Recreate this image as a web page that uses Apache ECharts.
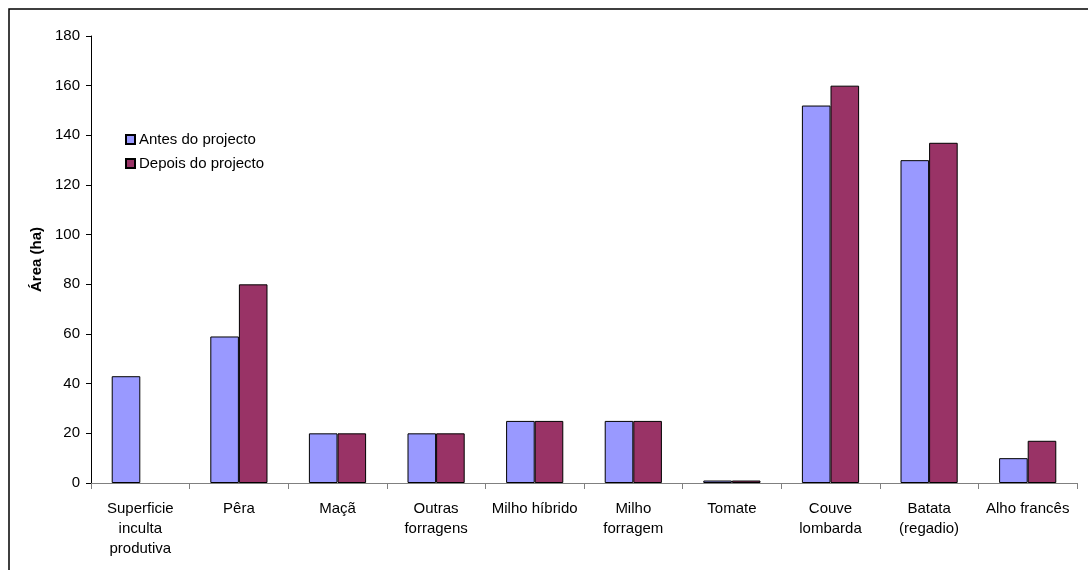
<!DOCTYPE html>
<html>
<head>
<meta charset="utf-8">
<script src="https://cdn.jsdelivr.net/npm/echarts@6/dist/echarts.min.js"></script>
<style>
  html, body { margin: 0; padding: 0; background: #ffffff; }
  #chart { width: 1088px; height: 570px; }
</style>
</head>
<body>
<div id="chart"></div>
<script>
// Área por cultura, antes e depois do projecto
const categories = [
  'Superficie\ninculta\nprodutiva', 'Pêra', 'Maçã', 'Outras\nforragens', 'Milho híbrido',
  'Milho\nforragem', 'Tomate', 'Couve\nlombarda', 'Batata\n(regadio)', 'Alho francês'
];
const antes = [43, 59, 20, 20, 25, 25, 1, 152, 130, 10];
const depois = [null, 80, 20, 20, 25, 25, 1, 160, 137, 17];
const yTicks = { min: 0, max: 180, interval: 20 };

const font = 'Arial, "Liberation Sans", sans-serif';
const chart = echarts.init(document.getElementById('chart'));

chart.setOption({
  animation: false,
  backgroundColor: '#ffffff',
  textStyle: { fontFamily: font },
  graphic: [{
    type: 'rect',
    shape: { x: 9, y: 9, width: 1200, height: 700 },
    style: { fill: 'none', stroke: '#000000', lineWidth: 1.5 },
    silent: true
  }],
  grid: { left: 91, right: 11, top: 36, bottom: 87, containLabel: false },
  legend: {
    orient: 'vertical',
    left: 120,
    top: 127,
    itemWidth: 9,
    itemHeight: 9,
    itemGap: 9,
    icon: 'rect',
    textStyle: { fontFamily: font, fontSize: 15, color: '#000000', padding: [0, 0, 0, -1] },
    data: ['Antes do projecto', 'Depois do projecto']
  },
  xAxis: {
    type: 'category',
    data: categories,
    axisLine: { lineStyle: { color: '#808080', width: 1 } },
    axisTick: { show: true, length: 6, lineStyle: { color: '#808080' } },
    axisLabel: {
      interval: 0,
      color: '#000000',
      fontFamily: font,
      fontSize: 15,
      lineHeight: 20,
      margin: 16
    },
    splitLine: { show: false }
  },
  yAxis: {
    type: 'value',
    min: yTicks.min,
    max: yTicks.max,
    interval: yTicks.interval,
    name: 'Área (ha)',
    nameLocation: 'middle',
    nameGap: 47,
    nameTextStyle: { fontFamily: font, fontSize: 15, fontWeight: 'bold', color: '#000000' },
    axisLine: { show: true, lineStyle: { color: '#000000', width: 1 } },
    axisTick: { show: true, length: 5, lineStyle: { color: '#000000' } },
    axisLabel: { color: '#000000', fontFamily: font, fontSize: 15, margin: 11 },
    splitLine: { show: false }
  },
  series: [
    {
      name: 'Antes do projecto',
      type: 'bar',
      data: antes,
      barWidth: '29%',
      barGap: '0%',
      itemStyle: { color: '#9999FF', borderColor: '#000000', borderWidth: 1 }
    },
    {
      name: 'Depois do projecto',
      type: 'bar',
      data: depois,
      barWidth: '29%',
      barGap: '0%',
      itemStyle: { color: '#993366', borderColor: '#000000', borderWidth: 1 }
    }
  ]
});
</script>
</body>
</html>
